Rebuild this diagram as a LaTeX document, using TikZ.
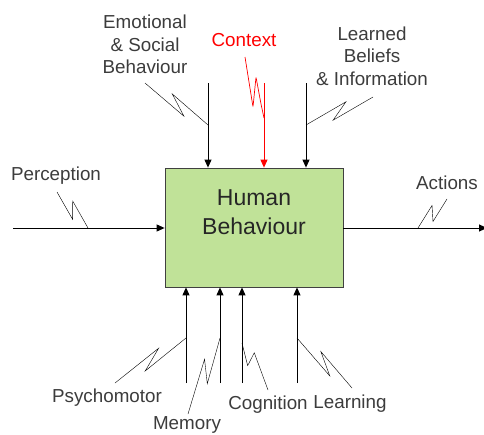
\documentclass[tikz,border=0pt]{standalone}
\usepackage{fontspec}
\setmainfont{Liberation Sans}
\usetikzlibrary{arrows.meta, calc, positioning}
\definecolor{boxgreen}{RGB}{192,226,152}
\definecolor{txtgray}{RGB}{60,60,60}
\tikzset{
    >={Triangle[length=8pt,width=7pt]},
    arr/.style={->, line width=0.9pt},
    lbl/.style={font=\fontsize{18.8}{22.5}\selectfont, text=txtgray, align=center, inner sep=0pt},
    box/.style={draw=black!75, fill=boxgreen, minimum width=178pt, minimum height=119pt, line width=0.8pt},
    bolt/.style n args={4}{line width=0.7pt, to path={-- ($(\tikztostart)!#1!(\tikztotarget)!6pt!#3:(\tikztotarget)$) -- ($(\tikztostart)!#2!(\tikztotarget)!6pt!#4:(\tikztotarget)$) -- (\tikztotarget)}}
}

\begin{document}
\begin{tikzpicture}[x=1pt, y=-1pt]
    \useasboundingbox (0,0) rectangle (484,434);

    \node[box, label={[font=\fontsize{23}{29}\selectfont, text=black!85, align=center, yshift=15pt]center:Human\\Behaviour}] (hb) at (254,227.5) {};

    \node[lbl] (emo) at (145,44.5) {Emotional\\\& Social\\Behaviour};
    \node[lbl, text=red] (ctx) at (244,40) {Context};
    \node[lbl] (lrn) at (372,56) {Learned\\Beliefs\\\& Information};
    \node[lbl] (perc) at (56,176) {Perception};
    \node[lbl] (act) at (447,183) {Actions};
    \node[lbl] (psy) at (107,398) {Psychomotor};
    \node[lbl] (mem) at (187,425) {Memory};
    \node[lbl] (cog) at (268,405) {Cognition};
    \node[lbl] (lea) at (350,404) {Learning};

    % free ends of the arrows
    \coordinate (in) at (13,228);
    \coordinate (out) at (487,228);
    \coordinate (t1) at (208,83);
    \coordinate (t2) at (264,83);
    \coordinate (t3) at (306,83);
    \coordinate (b1) at (186,383);
    \coordinate (b2) at (220,383);
    \coordinate (b3) at (242,383);
    \coordinate (b4) at (297,383);

    \draw[arr] (in) -- (in -| hb.west);
    \draw[arr] (hb.east |- out) -- (out);
    \draw[arr] (t1) -- (t1 |- hb.north);
    \draw[arr, red] (t2) -- (t2 |- hb.north);
    \draw[arr] (t3) -- (t3 |- hb.north);
    \draw[arr] (b1) -- (b1 |- hb.south);
    \draw[arr] (b2) -- (b2 |- hb.south);
    \draw[arr] (b3) -- (b3 |- hb.south);
    \draw[arr] (b4) -- (b4 |- hb.south);

    % lightning lines
    \draw (57,192) to[bolt={.65}{.36}{-90}{90}] (88,228);
    \draw (447,199) to[bolt={.63}{.37}{90}{-90}] (418,228);
    \draw (145,83) to[bolt={.67}{.38}{-90}{90}] (208,125);
    \draw (373,97) to[bolt={.63}{.37}{90}{-90}] (306,125);
    \draw[red, line width=0.7pt, rounded corners=2pt] (245,57) -- (253,107) -- (256,77) -- (261,104) -- (264,118);
    \draw (115,383) to[bolt={.66}{.38}{90}{-90}] (186,338);
    \draw (188,414) to[bolt={.69}{.43}{90}{-90}] (220,338);
    \draw (268,390) to[bolt={.73}{.58}{-90}{90}] (242,343);
    \draw (352,388) to[bolt={.64}{.33}{-90}{90}] (297,338);
\end{tikzpicture}
\end{document}
